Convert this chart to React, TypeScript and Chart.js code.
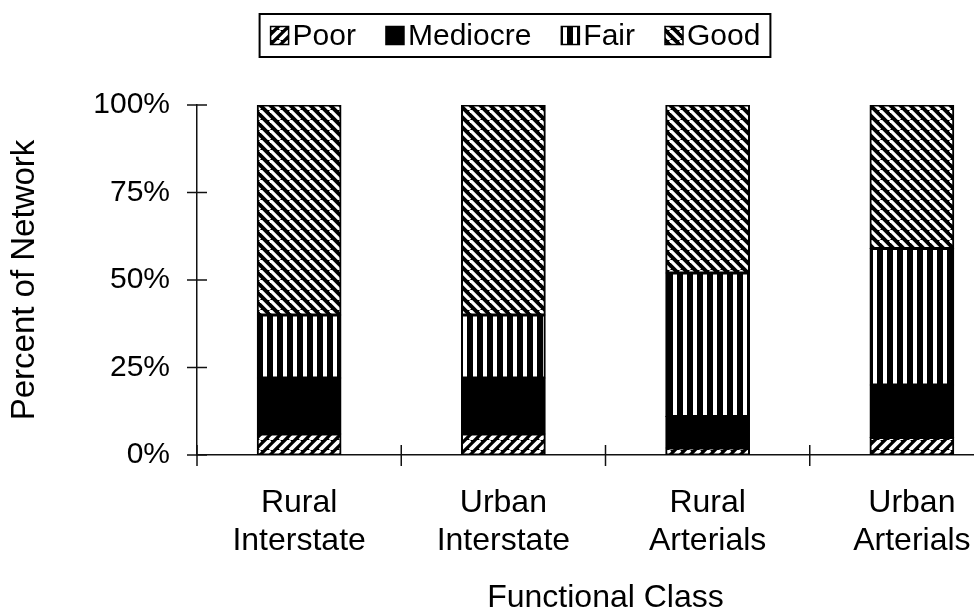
import React, { useEffect, useRef } from "react";
import { Chart, registerables } from "chart.js";

Chart.register(...registerables);

// ---- data ----
const categories: string[][] = [
  ["Rural", "Interstate"],
  ["Urban", "Interstate"],
  ["Rural", "Arterials"],
  ["Urban", "Arterials"],
];
const seriesNames = ["Poor", "Mediocre", "Fair", "Good"];
const poor = [6, 6, 2, 5];
const mediocre = [16, 16, 9, 15];
const fair = [18, 18, 41, 39];
const good = [60, 60, 48, 41];
const yTicks = [0, 25, 50, 75, 100];
const yAxisTitle = "Percent of Network";
const xAxisTitle = "Functional Class";

const FONT = "'Liberation Sans', Arial, Helvetica, sans-serif";

function makePattern(kind: string): any {
  if (kind === "Mediocre") return "#000";
  const c = document.createElement("canvas");
  const s = 10;
  c.width = s;
  c.height = s;
  const g = c.getContext("2d")!;
  g.fillStyle = "#000";
  g.fillRect(0, 0, s, s);
  g.strokeStyle = "#fff";
  if (kind === "Poor") {
    g.lineWidth = 3.8;
    for (const off of [-s, 0, s]) {
      g.beginPath();
      g.moveTo(off, s);
      g.lineTo(off + s, 0);
      g.stroke();
    }
  } else if (kind === "Good") {
    g.lineWidth = 3.2;
    for (const off of [-s, 0, s]) {
      g.beginPath();
      g.moveTo(off, 0);
      g.lineTo(off + s, s);
      g.stroke();
    }
  } else if (kind === "Fair") {
    g.fillStyle = "#fff";
    g.fillRect(3, 0, 4, s);
  }
  return g.createPattern(c, "repeat");
}

const boxLegendPlugin = {
  id: "boxLegend",
  afterDraw(chart: any) {
    const ctx = chart.ctx as CanvasRenderingContext2D;
    ctx.save();
    ctx.font = `30px ${FONT}`;
    const box = 18;
    const gapText = 4;
    const gapItem = 30;
    const padL = 11;
    const padR = 10;
    const items = chart.data.datasets.map((ds: any) => ({
      label: ds.label as string,
      fill: ds.backgroundColor,
      w: ctx.measureText(ds.label).width,
    }));
    const contentW =
      items.reduce((a: number, it: any) => a + box + gapText + it.w, 0) +
      gapItem * (items.length - 1);
    const totalW = contentW + padL + padR;
    const left = chart.width / 2 - totalW / 2;
    const top = 14;
    const h = 43;
    ctx.lineWidth = 2;
    ctx.strokeStyle = "#000";
    ctx.strokeRect(left, top, totalW, h);
    let x = left + padL;
    const cy = top + h / 2;
    ctx.textBaseline = "middle";
    ctx.textAlign = "left";
    for (const it of items) {
      ctx.fillStyle = it.fill;
      ctx.fillRect(x, cy - box / 2, box, box);
      ctx.lineWidth = 1.5;
      ctx.strokeRect(x, cy - box / 2, box, box);
      x += box + gapText;
      ctx.fillStyle = "#000";
      ctx.fillText(it.label, x, cy + 1);
      x += it.w + gapItem;
    }
    ctx.restore();
  },
};

const crossTicksPlugin = {
  id: "crossTicks",
  afterDraw(chart: any) {
    const ctx = chart.ctx as CanvasRenderingContext2D;
    const xs = chart.scales.x;
    const ys = chart.scales.y;
    ctx.save();
    ctx.strokeStyle = "#111";
    ctx.lineWidth = 1.5;
    for (const v of yTicks) {
      const py = ys.getPixelForValue(v);
      ctx.beginPath();
      ctx.moveTo(xs.left - 10, py);
      ctx.lineTo(xs.left + 10, py);
      ctx.stroke();
    }
    const n = categories.length;
    for (let i = 0; i <= n; i++) {
      const px = xs.left + (i * (xs.right - xs.left)) / n;
      ctx.beginPath();
      ctx.moveTo(px, ys.bottom - 10);
      ctx.lineTo(px, ys.bottom + 11);
      ctx.stroke();
    }
    ctx.restore();
  },
};

export default function App() {
  const ref = useRef<HTMLCanvasElement>(null);

  useEffect(() => {
    if (!ref.current) return;
    const series = [poor, mediocre, fair, good];
    const chart = new Chart(ref.current, {
      type: "bar",
      data: {
        labels: categories,
        datasets: seriesNames.map((name, i) => ({
          label: name,
          data: series[i],
          backgroundColor: makePattern(name),
          borderColor: "#000",
          borderWidth: 2,
          borderSkipped: false,
          inflateAmount: 0.5,
          barPercentage: 0.41,
          categoryPercentage: 1,
        })),
      },
      options: {
        animation: false,
        responsive: false,
        devicePixelRatio: 1,
        layout: { padding: { top: 105, left: 0, right: 16, bottom: 0 } },
        plugins: {
          legend: { display: false },
          tooltip: { enabled: false },
          title: { display: false },
        },
        scales: {
          x: {
            stacked: true,
            grid: { display: false, drawTicks: false },
            border: { display: true, color: "#111", width: 1.5 },
            ticks: {
              color: "#000",
              padding: 29,
              font: { family: FONT, size: 32, lineHeight: 1.19 },
              maxRotation: 0,
              autoSkip: false,
            },
            title: {
              display: true,
              text: xAxisTitle,
              color: "#000",
              font: { family: FONT, size: 32, lineHeight: 1.2 },
              padding: { top: 0, bottom: -6 },
            },
            afterFit: (s: any) => {
              s.height = 156;
            },
          },
          y: {
            stacked: true,
            min: 0,
            max: 100,
            afterBuildTicks: (s: any) => {
              s.ticks = yTicks.map((v) => ({ value: v }));
            },
            grid: { display: false, drawTicks: false },
            border: { display: true, color: "#111", width: 1.5 },
            ticks: {
              color: "#000",
              padding: 27,
              font: { family: FONT, size: 30 },
              callback: (v: any) => `${v}%`,
            },
            title: {
              display: true,
              text: yAxisTitle,
              color: "#000",
              font: { family: FONT, size: 33, lineHeight: 1.2 },
              padding: { top: 5, bottom: 0 },
            },
            afterFit: (s: any) => {
              s.width = 197;
            },
          },
        },
      },
      plugins: [crossTicksPlugin, boxLegendPlugin],
    });
    return () => chart.destroy();
  }, []);

  return (
    <div
      style={{
        position: "fixed",
        left: 0,
        top: 0,
        width: 974,
        height: 611,
        overflow: "hidden",
        background: "#fff",
      }}
    >
      <canvas
        ref={ref}
        width={1030}
        height={611}
        style={{ display: "block", width: 1030, height: 611 }}
      />
    </div>
  );
}
